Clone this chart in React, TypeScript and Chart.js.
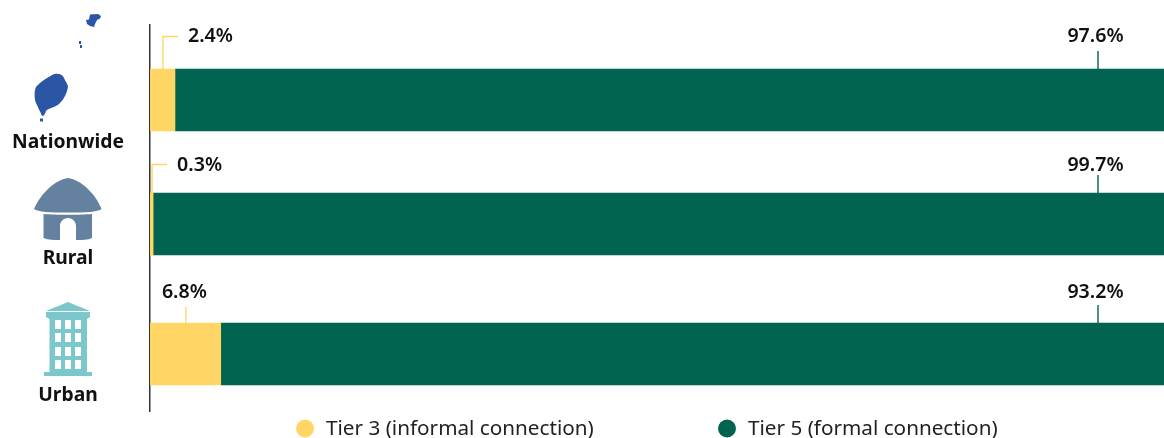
import React, { useEffect, useRef } from "react";
import { Chart, registerables } from "chart.js";

Chart.register(...registerables);

const categories = ["Nationwide", "Rural", "Urban"];
const tier3Values = [2.4, 0.3, 6.8];
const tier5Values = [97.6, 99.7, 93.2];
const seriesNames = ["Tier 3 (informal connection)", "Tier 5 (formal connection)"];
const rowOrder = [0, 1, 2.048];

const YELLOW = "#FFD666";
const GREEN = "#006450";
const INK = "#111111";
const FONT = "'Noto Sans', sans-serif";

const W = 1164;
const H = 438;

const categoryLabelY = [142.5, 258.5, 395.5];
const valueLabelRise = [33, 28, 31];
const upperLeaderElbow = [36, 164, null as number | null];

function drawIcons(ctx: CanvasRenderingContext2D) {
  // Islands
  ctx.fillStyle = "#2A56A5";
  const main = new Path2D(
    "M52 75 C56 73 62 73 64 78 C65 81 68 84 68 87 C67 93 64 99 60 103 C55 108 48 108 46 111 C45 114 44 116 42 116 C41 113 39 110 37 105 C34 100 34 91 36 87 C40 82 47 78 52 75 Z"
  );
  ctx.fill(main);
  ctx.fill(new Path2D("M40 118.5 L43 118.5 L43 121.5 L40 121.5 Z"));
  const north = new Path2D(
    "M90 14.5 L98 14 L101 16 L100 18.5 L97 20 L95 24 L94 27 L90 26 L87 24 L86 20 L89 19.5 Z"
  );
  ctx.fill(north);
  ctx.fill(new Path2D("M79 41 L81 41 L81 44 L79 44 Z"));
  ctx.fill(new Path2D("M80 45 L82 45 L82 48 L80 48 Z"));

  // Hut
  ctx.fillStyle = "#64829F";
  ctx.fill(new Path2D("M34 209 C41 193 55 180 68 178 C81 180 95 193 101.5 209 C98 212 85 212.5 68 212.5 C50 212.5 38 212 34 209 Z"));
  ctx.fill(
    new Path2D(
      "M43.5 214 C55 215 81 215 92 214 L92 238 C88 240 82 240 76 240 L76 226 C76 221 72 218 68 218 C64 218 60 221 60 226 L60 240 C54 240 48 240 43.5 238 Z"
    )
  );

  // Building
  ctx.fillStyle = "#7CC7CB";
  ctx.fill(new Path2D("M68 302 L90 311 L46 311 Z"));
  ctx.fill(new Path2D("M46 312 L90 312 L90 317 L87 319 L87 372 L92 372 L92 376 L44 376 L44 372 L49.5 372 L49.5 319 L46 317 Z"));
  ctx.fillStyle = "#FFFFFF";
  for (const wy of [320, 333, 347, 360]) {
    for (const wx of [55, 65, 75]) ctx.fillRect(wx, wy, 6, 9);
  }
}

const decorations = {
  id: "decorations",
  afterDatasetsDraw(chart: any) {
    const { ctx, scales } = chart;
    const xs = scales.x;
    const ys = scales.y;
    ctx.save();
    drawIcons(ctx);

    ctx.textBaseline = "middle";
    ctx.textAlign = "center";
    ctx.fillStyle = INK;
    ctx.font = `700 19.3px ${FONT}`;
    categories.forEach((c, i) => ctx.fillText(c, 68, categoryLabelY[i]));

    categories.forEach((_, i) => {
      const barTop = Math.round(ys.getPixelForValue(rowOrder[i]) - 31);
      const labelY = barTop - valueLabelRise[i];
      const midX = (xs.getPixelForValue(0) + xs.getPixelForValue(tier3Values[i])) / 2 + 0.5;
      const elbow = upperLeaderElbow[i];

      // Tier 3 leader
      ctx.strokeStyle = YELLOW;
      ctx.lineWidth = 1.4;
      ctx.beginPath();
      ctx.moveTo(midX, barTop);
      if (elbow !== null) {
        ctx.lineTo(midX, elbow + 0.5);
        ctx.lineTo(midX + 15, elbow + 0.5);
      } else {
        ctx.lineTo(midX, barTop - 16);
      }
      ctx.stroke();

      // Tier 5 leader
      ctx.strokeStyle = GREEN;
      ctx.beginPath();
      ctx.moveTo(1098, barTop);
      ctx.lineTo(1098, barTop - 18);
      ctx.stroke();

      ctx.fillStyle = INK;
      ctx.font = `600 19.6px ${FONT}`;
      if (elbow !== null) {
        ctx.textAlign = "left";
        ctx.fillText(`${tier3Values[i].toFixed(1)}%`, midX + 25, labelY);
      } else {
        ctx.textAlign = "center";
        ctx.fillText(`${tier3Values[i].toFixed(1)}%`, midX - 1.5, labelY);
      }
      ctx.textAlign = "center";
      ctx.fillText(`${tier5Values[i].toFixed(1)}%`, 1095.5, labelY);
    });

    // Legend
    ctx.textAlign = "left";
    ctx.font = `400 20.7px ${FONT}`;
    const legendItems = [
      { name: seriesNames[0], color: YELLOW, cx: 305 },
      { name: seriesNames[1], color: GREEN, cx: 727 },
    ];
    for (const item of legendItems) {
      ctx.fillStyle = item.color;
      ctx.beginPath();
      ctx.arc(item.cx, 428.5, 9, 0, Math.PI * 2);
      ctx.fill();
      ctx.fillStyle = "#222222";
      ctx.fillText(item.name, item.cx + 21, 429);
    }
    ctx.restore();
  },
};

export default function App() {
  const ref = useRef<HTMLCanvasElement | null>(null);

  useEffect(() => {
    document.body.style.margin = "0";
    const chart = new Chart(ref.current as HTMLCanvasElement, {
      type: "bar",
      data: {
        datasets: [
          {
            label: seriesNames[0],
            data: rowOrder.map((y, i) => ({ x: tier3Values[i], y })),
            backgroundColor: YELLOW,
            barThickness: 62,
            borderWidth: 0,
          },
          {
            label: seriesNames[1],
            data: rowOrder.map((y, i) => ({ x: tier5Values[i], y })),
            backgroundColor: GREEN,
            barThickness: 62,
            borderWidth: 0,
          },
        ],
      },
      options: {
        indexAxis: "y",
        responsive: false,
        animation: false,
        layout: { padding: { left: 150, top: 25, right: 0, bottom: 27 } },
        plugins: { legend: { display: false }, tooltip: { enabled: false } },
        scales: {
          x: { display: false, stacked: true, min: 0, max: 97.5 },
          y: {
            type: "linear",
            stacked: true,
            reverse: true,
            offset: false,
            min: -0.605,
            max: 2.508,
            ticks: { display: false },
            grid: { display: false, drawTicks: false, offset: false },
            border: { display: true, color: "#333333", width: 1.5 },
          },
        },
      },
      plugins: [decorations],
    } as any);
    return () => chart.destroy();
  }, []);

  return (
    <div style={{ position: "absolute", left: 0, top: 0, width: W, height: H, overflow: "hidden", background: "#fff" }}>
      <canvas ref={ref} width={W} height={H} style={{ display: "block" }} />
    </div>
  );
}
